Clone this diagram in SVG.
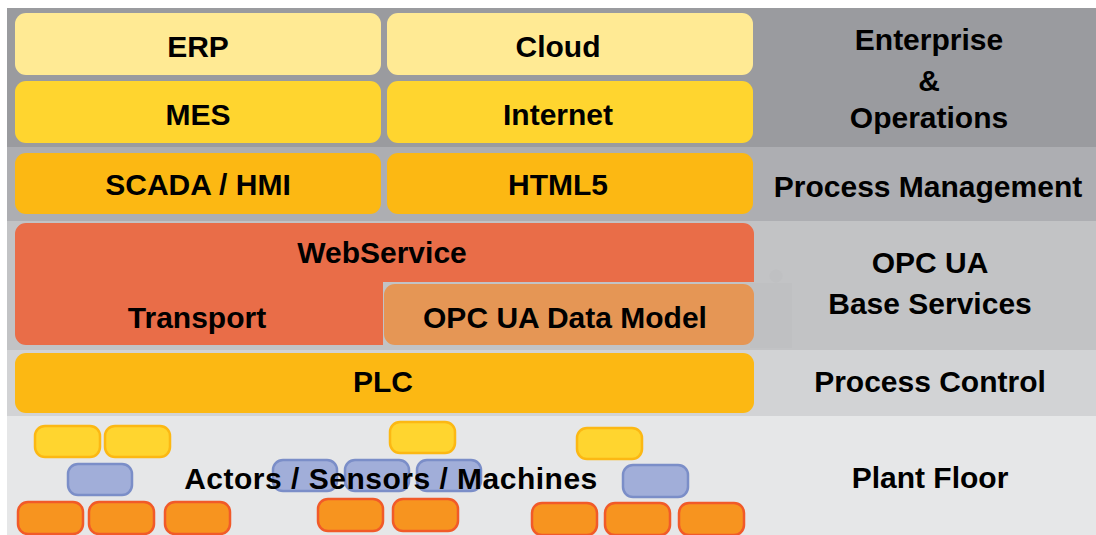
<svg xmlns="http://www.w3.org/2000/svg" width="1096" height="535" viewBox="0 0 1096 535">
  <style>
    text { font-family: "Liberation Sans", Arial, sans-serif; font-weight: bold; font-size: 30px; fill: #000; text-anchor: middle; }
    .pale { fill: #ffea94; }
    .gold { fill: #ffd52f; }
    .amber { fill: #fcb813; }
    .pill { stroke-width: 2.5; }
    .py { fill: #ffd52f; stroke: #fcb813; }
    .pb { fill: #a1aed9; stroke: #7b8ec8; }
    .po { fill: #f7941f; stroke: #f15a29; }
  </style>

  <rect width="1096" height="535" fill="#ffffff"/>

  <!-- layer bands -->
  <g id="bands">
    <rect x="7" y="8" width="1089" height="139" fill="#9a9b9f"/>
    <rect x="7" y="147" width="1089" height="74" fill="#adaeb2"/>
    <rect x="7" y="221" width="1089" height="129" fill="#c2c3c5"/>
    <rect x="7" y="350" width="1089" height="66" fill="#d2d3d5"/>
    <rect x="7" y="416" width="1089" height="119" fill="#e6e7e8"/>
    <!-- faint emblem behind the OPC UA label -->
    <g fill="#b9babc" opacity="0.3">
      <circle cx="776" cy="276" r="6.5"/>
      <rect x="750" y="283" width="42" height="65"/>
    </g>
  </g>

  <!-- Enterprise & Operations -->
  <g id="erp"><rect class="pale" x="15" y="13" width="366" height="62" rx="11"/><text x="198" y="57">ERP</text></g>
  <g id="cloud"><rect class="pale" x="387" y="13" width="366" height="62" rx="11"/><text x="558" y="57">Cloud</text></g>
  <g id="mes"><rect class="gold" x="15" y="81" width="366" height="62" rx="11"/><text x="198" y="125">MES</text></g>
  <g id="internet"><rect class="gold" x="387" y="81" width="366" height="62" rx="11"/><text x="558" y="125">Internet</text></g>
  <g id="label-enterprise">
    <text x="929" y="50">Enterprise</text>
    <text x="929" y="91">&amp;</text>
    <text x="929" y="128">Operations</text>
  </g>

  <!-- Process Management -->
  <g id="scada"><rect class="amber" x="15" y="153" width="366" height="61" rx="11"/><text x="198" y="195">SCADA / HMI</text></g>
  <g id="html5"><rect class="amber" x="387" y="153" width="366" height="61" rx="11"/><text x="558" y="195">HTML5</text></g>
  <g id="label-process-management"><text x="928" y="197">Process Management</text></g>

  <!-- OPC UA Base Services -->
  <g id="webservice">
    <path d="M26 223 H743 A11 11 0 0 1 754 234 V282 H383 V345 H26 A11 11 0 0 1 15 334 V234 A11 11 0 0 1 26 223 Z" fill="#e96d48"/>
    <text x="382" y="263">WebService</text>
    <text x="197" y="328">Transport</text>
  </g>
  <g id="data-model"><rect x="384" y="284" width="370" height="61" rx="11" fill="#e59655"/><text x="565" y="328">OPC UA Data Model</text></g>
  <g id="label-opcua">
    <text x="930" y="273">OPC UA</text>
    <text x="930" y="314">Base Services</text>
  </g>

  <!-- Process Control -->
  <g id="plc"><rect class="amber" x="15" y="353" width="739" height="60" rx="11"/><text x="383" y="392">PLC</text></g>
  <g id="label-process-control"><text x="930" y="392">Process Control</text></g>

  <!-- Plant Floor devices -->
  <g id="devices" class="pill">
    <rect class="py" x="35" y="426" width="65" height="31" rx="10"/>
    <rect class="py" x="105" y="426" width="65" height="31" rx="10"/>
    <rect class="py" x="390" y="422" width="65" height="31" rx="10"/>
    <rect class="py" x="577" y="428" width="65" height="31" rx="10"/>

    <rect class="pb" x="68" y="464" width="64" height="31" rx="10"/>
    <rect class="pb" x="273" y="460" width="64" height="31" rx="10"/>
    <rect class="pb" x="345" y="460" width="64" height="31" rx="10"/>
    <rect class="pb" x="417" y="460" width="64" height="31" rx="10"/>
    <rect class="pb" x="623" y="465" width="65" height="32" rx="10"/>

    <rect class="po" x="18" y="502" width="65" height="32" rx="10"/>
    <rect class="po" x="89" y="502" width="65" height="32" rx="10"/>
    <rect class="po" x="165" y="502" width="65" height="32" rx="10"/>
    <rect class="po" x="318" y="499" width="65" height="32" rx="10"/>
    <rect class="po" x="393" y="499" width="65" height="32" rx="10"/>
    <rect class="po" x="532" y="503" width="65" height="32" rx="10"/>
    <rect class="po" x="605" y="503" width="65" height="32" rx="10"/>
    <rect class="po" x="679" y="503" width="65" height="32" rx="10"/>
  </g>
  <g id="plant-floor">
    <text x="391" y="489" letter-spacing="0.5">Actors / Sensors / Machines</text>
    <text x="930" y="488">Plant Floor</text>
  </g>
</svg>
